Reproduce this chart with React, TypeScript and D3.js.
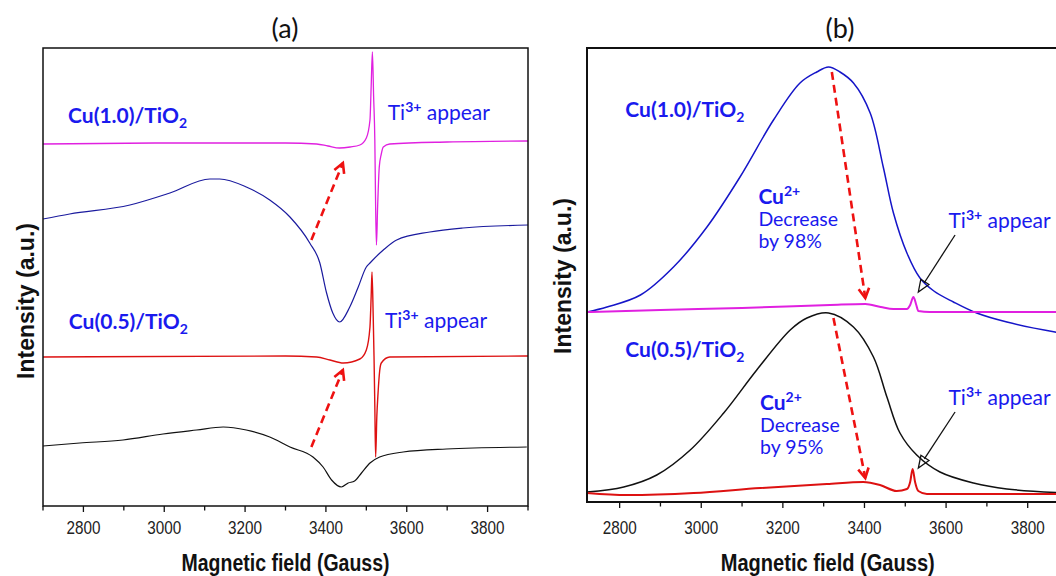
import React from "react";
import * as d3 from "d3";

type Pt = [number, number];

// ---- panel (a): first-derivative EPR spectra, stacked with offsets (a.u.) ----
const aCu10After: Pt[] = [
  [2700, 362], [3000, 363], [3300, 363], [3377, 362], [3405, 360], [3434, 358],
  [3460, 359], [3484, 361], [3500, 368], [3509, 386], [3512, 420], [3515, 454],
  [3518, 410], [3521, 366], [3523, 300], [3525, 261], [3528, 300], [3532, 339],
  [3537, 352], [3542, 359], [3558, 362], [3700, 364], [3900, 365],
];
const aCu10Before: Pt[] = [
  [2700, 287], [2766, 292], [2915, 301], [3014, 313], [3113, 327], [3137, 327],
  [3203, 319], [3261, 306], [3311, 289], [3360, 263], [3385, 243], [3401, 214],
  [3417, 193], [3434, 184], [3459, 199], [3480, 219], [3500, 239], [3509, 243],
  [3542, 256], [3575, 266], [3657, 274], [3739, 278], [3900, 281],
];
const aCu05After: Pt[] = [
  [2700, 149], [3300, 150], [3377, 149], [3410, 146], [3443, 143], [3484, 147],
  [3500, 156], [3509, 179], [3512, 210], [3514, 234], [3517, 190], [3519, 150],
  [3521, 100], [3523, 49], [3526, 90], [3529, 113], [3533, 135], [3537, 143],
  [3558, 149], [3900, 150],
];
const aCu05Before: Pt[] = [
  [2700, 60], [2791, 63], [2898, 66], [2997, 72], [3080, 76], [3146, 79],
  [3203, 76], [3261, 69], [3311, 59], [3368, 49], [3393, 39], [3414, 26],
  [3438, 19], [3455, 23], [3471, 25], [3488, 33], [3509, 43], [3533, 49],
  [3591, 54], [3698, 57], [3897, 59],
];

// ---- panel (b): integrated spectra ----
const bCu10Before: Pt[] = [
  [2720, 190], [2769, 195], [2851, 207], [2932, 235], [3014, 275], [3095, 325],
  [3177, 382], [3242, 419], [3283, 430], [3312, 435], [3340, 430], [3373, 419],
  [3414, 389], [3446, 335], [3471, 289], [3504, 249], [3536, 224], [3570, 211],
  [3618, 200], [3675, 189], [3749, 180], [3867, 170], [3900, 168],
];
const bCu10After: Pt[] = [
  [2720, 190], [2900, 192], [3100, 194], [3316, 197], [3402, 198], [3440, 195],
  [3471, 193], [3504, 193], [3512, 197], [3520, 205], [3527, 197], [3532, 191],
  [3560, 190], [3900, 190],
];
const bCu05Before: Pt[] = [
  [2720, 10], [2810, 15], [2891, 27], [2973, 52], [3055, 89], [3136, 132],
  [3218, 172], [3259, 184], [3312, 189], [3373, 175], [3422, 145], [3455, 105],
  [3487, 69], [3528, 47], [3585, 30], [3667, 19], [3749, 13], [3900, 9],
];
const bCu05After: Pt[] = [
  [2720, 9], [2818, 7], [2981, 9], [3145, 14], [3308, 18], [3397, 20], [3438, 17],
  [3479, 11], [3504, 13], [3512, 20], [3518, 33], [3524, 20], [3532, 11],
  [3553, 8], [3900, 8],
];

const majorTicks = [2800, 3000, 3200, 3400, 3600, 3800];
const minorTicks = [2700, 2900, 3100, 3300, 3500, 3700, 3900];

// annotation arrows: [tail, head] in data units
const aArrows: [Pt, Pt][] = [
  [[3364, 266], [3442, 343]],
  [[3364, 59], [3442, 136]],
];
const bRedArrows: [Pt, Pt][] = [
  [[3320, 430], [3402, 204]],
  [[3324, 184], [3402, 24]],
];
const bBlackArrows: [Pt, Pt][] = [
  [[3622, 267], [3532, 210]],
  [[3622, 90], [3532, 34]],
];

const LABEL_FONT = "Lato, 'Open Sans', sans-serif";
const AXIS_FONT = "'Liberation Sans', Arial, sans-serif";
const LABEL_BLUE = "#1a1aee";

function Sample({ x, y, name }: { x: number; y: number; name: string }) {
  return (
    <text x={x} y={y} fontFamily={LABEL_FONT} fontSize={21} fontWeight={700} fill={LABEL_BLUE}>
      {name}/TiO<tspan fontSize={14} dy={5}>2</tspan>
    </text>
  );
}

function TiLabel({ x, y }: { x: number; y: number }) {
  return (
    <text x={x} y={y} fontFamily={LABEL_FONT} fontSize={21} fill={LABEL_BLUE}>
      Ti<tspan fontSize={14} fontWeight={700} dy={-8}>3+</tspan>
      <tspan dy={8}> appear</tspan>
    </text>
  );
}

function CuDecrease({ x, y, pct }: { x: number; y: number; pct: string }) {
  return (
    <text x={x} y={y} fontFamily={LABEL_FONT} fill={LABEL_BLUE} fontSize={19.5}>
      <tspan fontWeight={700} fontSize={21}>Cu</tspan>
      <tspan fontWeight={700} fontSize={14} dy={-8}>2+</tspan>
      <tspan x={x} dy={30}>Decrease</tspan>
      <tspan x={x} dy={22}>by {pct}</tspan>
    </text>
  );
}

function headLines(tail: [number, number], head: [number, number], len: number, ang: number) {
  const a = Math.atan2(tail[1] - head[1], tail[0] - head[0]);
  const p1: [number, number] = [head[0] + len * Math.cos(a + ang), head[1] + len * Math.sin(a + ang)];
  const p2: [number, number] = [head[0] + len * Math.cos(a - ang), head[1] + len * Math.sin(a - ang)];
  return [p1, p2];
}

function RedArrow({ tail, head }: { tail: [number, number]; head: [number, number] }) {
  const [p1, p2] = headLines(tail, head, 11, 0.5);
  return (
    <g stroke="#ee1111" strokeWidth={2.6} fill="none">
      <line x1={tail[0]} y1={tail[1]} x2={head[0]} y2={head[1]} strokeDasharray="8,5" />
      <polyline points={`${p1[0]},${p1[1]} ${head[0]},${head[1]} ${p2[0]},${p2[1]}`} />
    </g>
  );
}

function BlackArrow({ tail, head }: { tail: [number, number]; head: [number, number] }) {
  const [p1, p2] = headLines(tail, head, 13, 0.38);
  const a = Math.atan2(tail[1] - head[1], tail[0] - head[0]);
  const base: [number, number] = [head[0] + 11 * Math.cos(a), head[1] + 11 * Math.sin(a)];
  return (
    <g stroke="#111" strokeWidth={1.3} fill="none">
      <line x1={tail[0]} y1={tail[1]} x2={base[0]} y2={base[1]} />
      <polygon points={`${p1[0]},${p1[1]} ${head[0]},${head[1]} ${p2[0]},${p2[1]}`} />
    </g>
  );
}

function XAxis({ x, y0, titleW }: { x: d3.ScaleLinear<number, number>; y0: number; titleW: number }) {
  const [r0, r1] = x.range();
  const mid = (r0 + r1) / 2;
  return (
    <g>
      {majorTicks.map(t => (
        <line key={"M" + t} x1={x(t)} x2={x(t)} y1={y0} y2={y0 + 6} stroke="#111" strokeWidth={1.3} />
      ))}
      {minorTicks.filter(t => x(t) >= r0 - 0.5).map(t => (
        <line key={"m" + t} x1={x(t)} x2={x(t)} y1={y0} y2={y0 + 4.5} stroke="#111" strokeWidth={1.3} />
      ))}
      {majorTicks.map(t => (
        <text key={"L" + t} x={x(t)} y={534} textAnchor="middle" fontFamily={AXIS_FONT}
          fontSize={19} textLength={34} lengthAdjust="spacingAndGlyphs" fill="#222">{t}</text>
      ))}
      <text x={mid} y={571} textAnchor="middle" fontFamily={AXIS_FONT} fontSize={23}
        textLength={titleW} lengthAdjust="spacingAndGlyphs" fontWeight={700} fill="#111">
        Magnetic field (Gauss)
      </text>
    </g>
  );
}

export default function App() {
  const width = 1056;
  const height = 576;

  const xA = d3.scaleLinear().domain([2700, 3900]).range([43, 528]);
  const yA = d3.scaleLinear().domain([0, 458]).range([506, 48]);
  const xB = d3.scaleLinear().domain([2720, 3900]).range([587, 1068.5]);
  const yB = d3.scaleLinear().domain([0, 454]).range([502, 48]);

  const lineA = d3.line<Pt>().x(d => xA(d[0])).y(d => yA(d[1])).curve(d3.curveMonotoneX);
  const lineB = d3.line<Pt>().x(d => xB(d[0])).y(d => yB(d[1])).curve(d3.curveMonotoneX);
  const smoothB = d3.line<Pt>().x(d => xB(d[0])).y(d => yB(d[1])).curve(d3.curveCatmullRom.alpha(0.5));

  const pa = (p: Pt): [number, number] => [xA(p[0]), yA(p[1])];
  const pb = (p: Pt): [number, number] => [xB(p[0]), yB(p[1])];

  return (
    <svg width={width} height={height} viewBox={`0 0 ${width} ${height}`}
      style={{ position: "absolute", left: 0, top: 0, background: "#fff" }}>
      <rect width={width} height={height} fill="#fff" />

      {/* ---------- panel (a) ---------- */}
      <text x={285} y={38} textAnchor="middle" fontFamily={LABEL_FONT} fontSize={27} fill="#111">(a)</text>
      <path d={lineA(aCu10After) || ""} fill="none" stroke="#e020e0" strokeWidth={1.3} />
      <path d={lineA(aCu10Before) || ""} fill="none" stroke="#1a1a9e" strokeWidth={1.2} />
      <path d={lineA(aCu05After) || ""} fill="none" stroke="#dd1111" strokeWidth={1.4} />
      <path d={lineA(aCu05Before) || ""} fill="none" stroke="#111" strokeWidth={1.2} />
      {aArrows.map((a, i) => <RedArrow key={i} tail={pa(a[0])} head={pa(a[1])} />)}
      <Sample x={xA(2762)} y={yA(383)} name="Cu(1.0)" />
      <Sample x={xA(2764)} y={yA(177)} name="Cu(0.5)" />
      <TiLabel x={xA(3553)} y={yA(386)} />
      <TiLabel x={xA(3546)} y={yA(178)} />
      <rect x={43} y={48} width={485} height={458} fill="none" stroke="#111" strokeWidth={1.5} />
      <XAxis x={xA} y0={506} titleW={208} />
      <text transform="translate(34,301) rotate(-90)" textAnchor="middle" fontFamily={AXIS_FONT}
        fontSize={23} fontWeight={700} fill="#111">Intensity (a.u.)</text>

      {/* ---------- panel (b) ---------- */}
      <text x={840} y={38} textAnchor="middle" fontFamily={LABEL_FONT} fontSize={27} fill="#111">(b)</text>
      <path d={smoothB(bCu10Before) || ""} fill="none" stroke="#1515c8" strokeWidth={1.5} />
      <path d={lineB(bCu10After) || ""} fill="none" stroke="#e020e0" strokeWidth={2} />
      <path d={smoothB(bCu05Before) || ""} fill="none" stroke="#111" strokeWidth={1.5} />
      <path d={lineB(bCu05After) || ""} fill="none" stroke="#dd1111" strokeWidth={2} />
      {bRedArrows.map((a, i) => <RedArrow key={i} tail={pb(a[0])} head={pb(a[1])} />)}
      {bBlackArrows.map((a, i) => <BlackArrow key={i} tail={pb(a[0])} head={pb(a[1])} />)}
      <Sample x={xB(2814)} y={yB(385)} name="Cu(1.0)" />
      <Sample x={xB(2814)} y={yB(145)} name="Cu(0.5)" />
      <CuDecrease x={xB(3140)} y={yB(298)} pct="98%" />
      <CuDecrease x={xB(3144)} y={yB(92)} pct="95%" />
      <TiLabel x={xB(3606)} y={yB(274)} />
      <TiLabel x={xB(3606)} y={yB(97)} />
      <path d={`M${xB(3900) + 2},48 H587 V502 H${xB(3900) + 2}`} fill="none" stroke="#111" strokeWidth={2} />
      <XAxis x={xB} y0={502} titleW={214} />
      <text transform="translate(571,276) rotate(-90)" textAnchor="middle" fontFamily={AXIS_FONT}
        fontSize={23} fontWeight={700} fill="#111">Intensity (a.u.)</text>
    </svg>
  );
}
